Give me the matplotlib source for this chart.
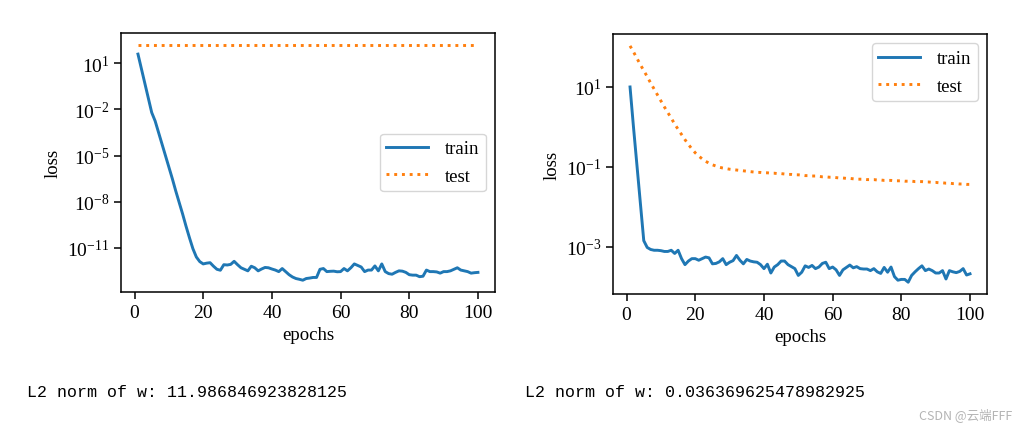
"""
Weight decay experiment: train/test loss curves (log scale) for two runs
"""
import numpy as np
import matplotlib
matplotlib.use('Agg')
import matplotlib.pyplot as plt
from matplotlib.ticker import NullLocator

plt.rcParams['font.family'] = ['Liberation Serif', 'DejaVu Serif']
plt.rcParams['mathtext.fontset'] = 'stix'

epochs = np.arange(1, 101)

# run 1 (no weight decay) - log10 of loss
train_log_a = [
    1.6, 0.65, -0.3, -1.25, -2.2, -2.75, -3.5, -4.25, -5.0, -5.75,
    -6.5, -7.3, -8.05, -8.8, -9.6, -10.35, -11.06, -11.6, -11.9, -12.05,
    -12.0, -11.97, -12.2, -12.4, -12.46, -12.1, -12.12, -12.08, -11.88, -12.1,
    -12.3, -12.4, -12.5, -12.2, -12.3, -12.5, -12.38, -12.28, -12.3, -12.38,
    -12.45, -12.55, -12.35, -12.55, -12.75, -12.9, -13.0, -13.05, -13.11, -13.0,
    -12.97, -12.93, -12.93, -12.4, -12.35, -12.55, -12.53, -12.52, -12.56, -12.55,
    -12.35, -12.5, -12.3, -12.05, -12.15, -12.25, -12.55, -12.45, -12.45, -12.18,
    -12.5, -12.05, -12.55, -12.68, -12.72, -12.6, -12.5, -12.52, -12.6, -12.75,
    -12.78, -12.78, -12.88, -12.85, -12.45, -12.55, -12.55, -12.57, -12.65, -12.55,
    -12.55, -12.5, -12.4, -12.3, -12.45, -12.5, -12.55, -12.65, -12.62, -12.6,
]
test_log_a = [
    2.21, 2.21, 2.21, 2.21, 2.21, 2.21, 2.21, 2.21, 2.21, 2.21,
    2.21, 2.21, 2.21, 2.21, 2.21, 2.21, 2.21, 2.21, 2.21, 2.21,
    2.21, 2.21, 2.21, 2.21, 2.21, 2.21, 2.21, 2.21, 2.21, 2.21,
    2.21, 2.21, 2.21, 2.21, 2.21, 2.21, 2.21, 2.21, 2.21, 2.21,
    2.21, 2.21, 2.21, 2.21, 2.21, 2.21, 2.21, 2.21, 2.21, 2.21,
    2.21, 2.21, 2.21, 2.21, 2.21, 2.21, 2.21, 2.21, 2.21, 2.21,
    2.21, 2.21, 2.21, 2.21, 2.21, 2.21, 2.21, 2.21, 2.21, 2.21,
    2.21, 2.21, 2.21, 2.21, 2.21, 2.21, 2.21, 2.21, 2.21, 2.21,
    2.21, 2.21, 2.21, 2.21, 2.21, 2.21, 2.21, 2.21, 2.21, 2.21,
    2.21, 2.21, 2.21, 2.21, 2.21, 2.21, 2.21, 2.21, 2.21, 2.21,
]

# run 2 (with weight decay)
train_log_b = [
    1.0, 0.0, -0.95, -1.9, -2.85, -3.02, -3.07, -3.09, -3.09, -3.1,
    -3.12, -3.12, -3.09, -3.17, -3.09, -3.3, -3.45, -3.36, -3.3, -3.3,
    -3.34, -3.3, -3.26, -3.28, -3.43, -3.42, -3.38, -3.3, -3.45, -3.39,
    -3.35, -3.22, -3.34, -3.43, -3.32, -3.36, -3.38, -3.39, -3.45, -3.55,
    -3.44, -3.66, -3.51, -3.45, -3.36, -3.36, -3.45, -3.5, -3.55, -3.72,
    -3.64, -3.48, -3.52, -3.47, -3.55, -3.51, -3.42, -3.39, -3.55, -3.51,
    -3.58, -3.72, -3.58, -3.52, -3.46, -3.53, -3.5, -3.55, -3.56, -3.56,
    -3.6, -3.55, -3.63, -3.67, -3.52, -3.64, -3.51, -3.75, -3.84, -3.82,
    -3.82, -3.89, -3.72, -3.63, -3.55, -3.48, -3.6, -3.56, -3.6, -3.66,
    -3.66, -3.6, -3.81, -3.6, -3.63, -3.65, -3.62, -3.55, -3.71, -3.68,
]
test_log_b = [
    2.03, 1.88, 1.72, 1.56, 1.41, 1.26, 1.1, 0.95, 0.8, 0.65,
    0.5, 0.36, 0.22, 0.07, -0.06, -0.19, -0.32, -0.44, -0.55, -0.65,
    -0.73, -0.8, -0.86, -0.91, -0.95, -0.98, -1.01, -1.03, -1.045, -1.06,
    -1.07, -1.08, -1.09, -1.1, -1.11, -1.12, -1.13, -1.14, -1.14, -1.15,
    -1.15, -1.16, -1.16, -1.17, -1.17, -1.18, -1.19, -1.19, -1.2, -1.2,
    -1.21, -1.22, -1.22, -1.23, -1.23, -1.24, -1.25, -1.25, -1.26, -1.26,
    -1.27, -1.28, -1.28, -1.29, -1.29, -1.3, -1.31, -1.31, -1.31, -1.32,
    -1.32, -1.32, -1.33, -1.33, -1.34, -1.34, -1.34, -1.35, -1.35, -1.35,
    -1.36, -1.36, -1.36, -1.37, -1.37, -1.37, -1.38, -1.38, -1.39, -1.39,
    -1.4, -1.4, -1.41, -1.41, -1.42, -1.42, -1.43, -1.43, -1.44, -1.44,
]

yticks_a = [1e1, 1e-2, 1e-5, 1e-8, 1e-11]
yticks_b = [1e1, 1e-1, 1e-3]
norm_a = '11.986846923828125'
norm_b = '0.036369625478982925'


def loss_panel(ax, train_log, test_log, yticks, legend_loc):
    ax.semilogy(epochs, 10.0 ** np.array(train_log), color='#1f77b4',
                linewidth=2.1, label='train')
    ax.semilogy(epochs, 10.0 ** np.array(test_log), color='#ff7f0e',
                linewidth=2.1, linestyle=':', label='test')
    ax.set_yticks(yticks)
    ax.yaxis.set_minor_locator(NullLocator())
    ax.set_xticks([0, 20, 40, 60, 80, 100])
    ax.set_xlabel('epochs', fontsize=13.5)
    ax.set_ylabel('loss', fontsize=13.5)
    ax.tick_params(labelsize=14, length=4.8, width=1.1)
    for sp in ax.spines.values():
        sp.set_linewidth(1.1)
    ax.legend(loc=legend_loc, fontsize=13.5, handlelength=2.2,
              borderpad=0.35, labelspacing=0.55, handletextpad=0.9)


fig = plt.figure(figsize=(10.26, 4.31), dpi=100)
ax1 = fig.add_axes([0.1179, 0.3202, 0.3645, 0.601])
ax2 = fig.add_axes([0.5975, 0.3155, 0.3645, 0.6032])

loss_panel(ax1, train_log_a, test_log_a, yticks_a, 'center right')
loss_panel(ax2, train_log_b, test_log_b, yticks_b, 'upper right')

# printed output below the plots
fig.text(27 / 1026, 1 - 393 / 431, f'L2 norm of w: {norm_a}',
         family='Liberation Mono', fontsize=12, va='center', ha='left')
fig.text(525 / 1026, 1 - 393 / 431, f'L2 norm of w: {norm_b}',
         family='Liberation Mono', fontsize=12, va='center', ha='left')
fig.text(1012 / 1026, 1 - 415 / 431, 'CSDN @云端FFF',
         family=['Noto Sans CJK SC', 'DejaVu Sans'], fontsize=9,
         color='#b4b4b4', va='center', ha='right')

fig.savefig('out.png', dpi=100)
